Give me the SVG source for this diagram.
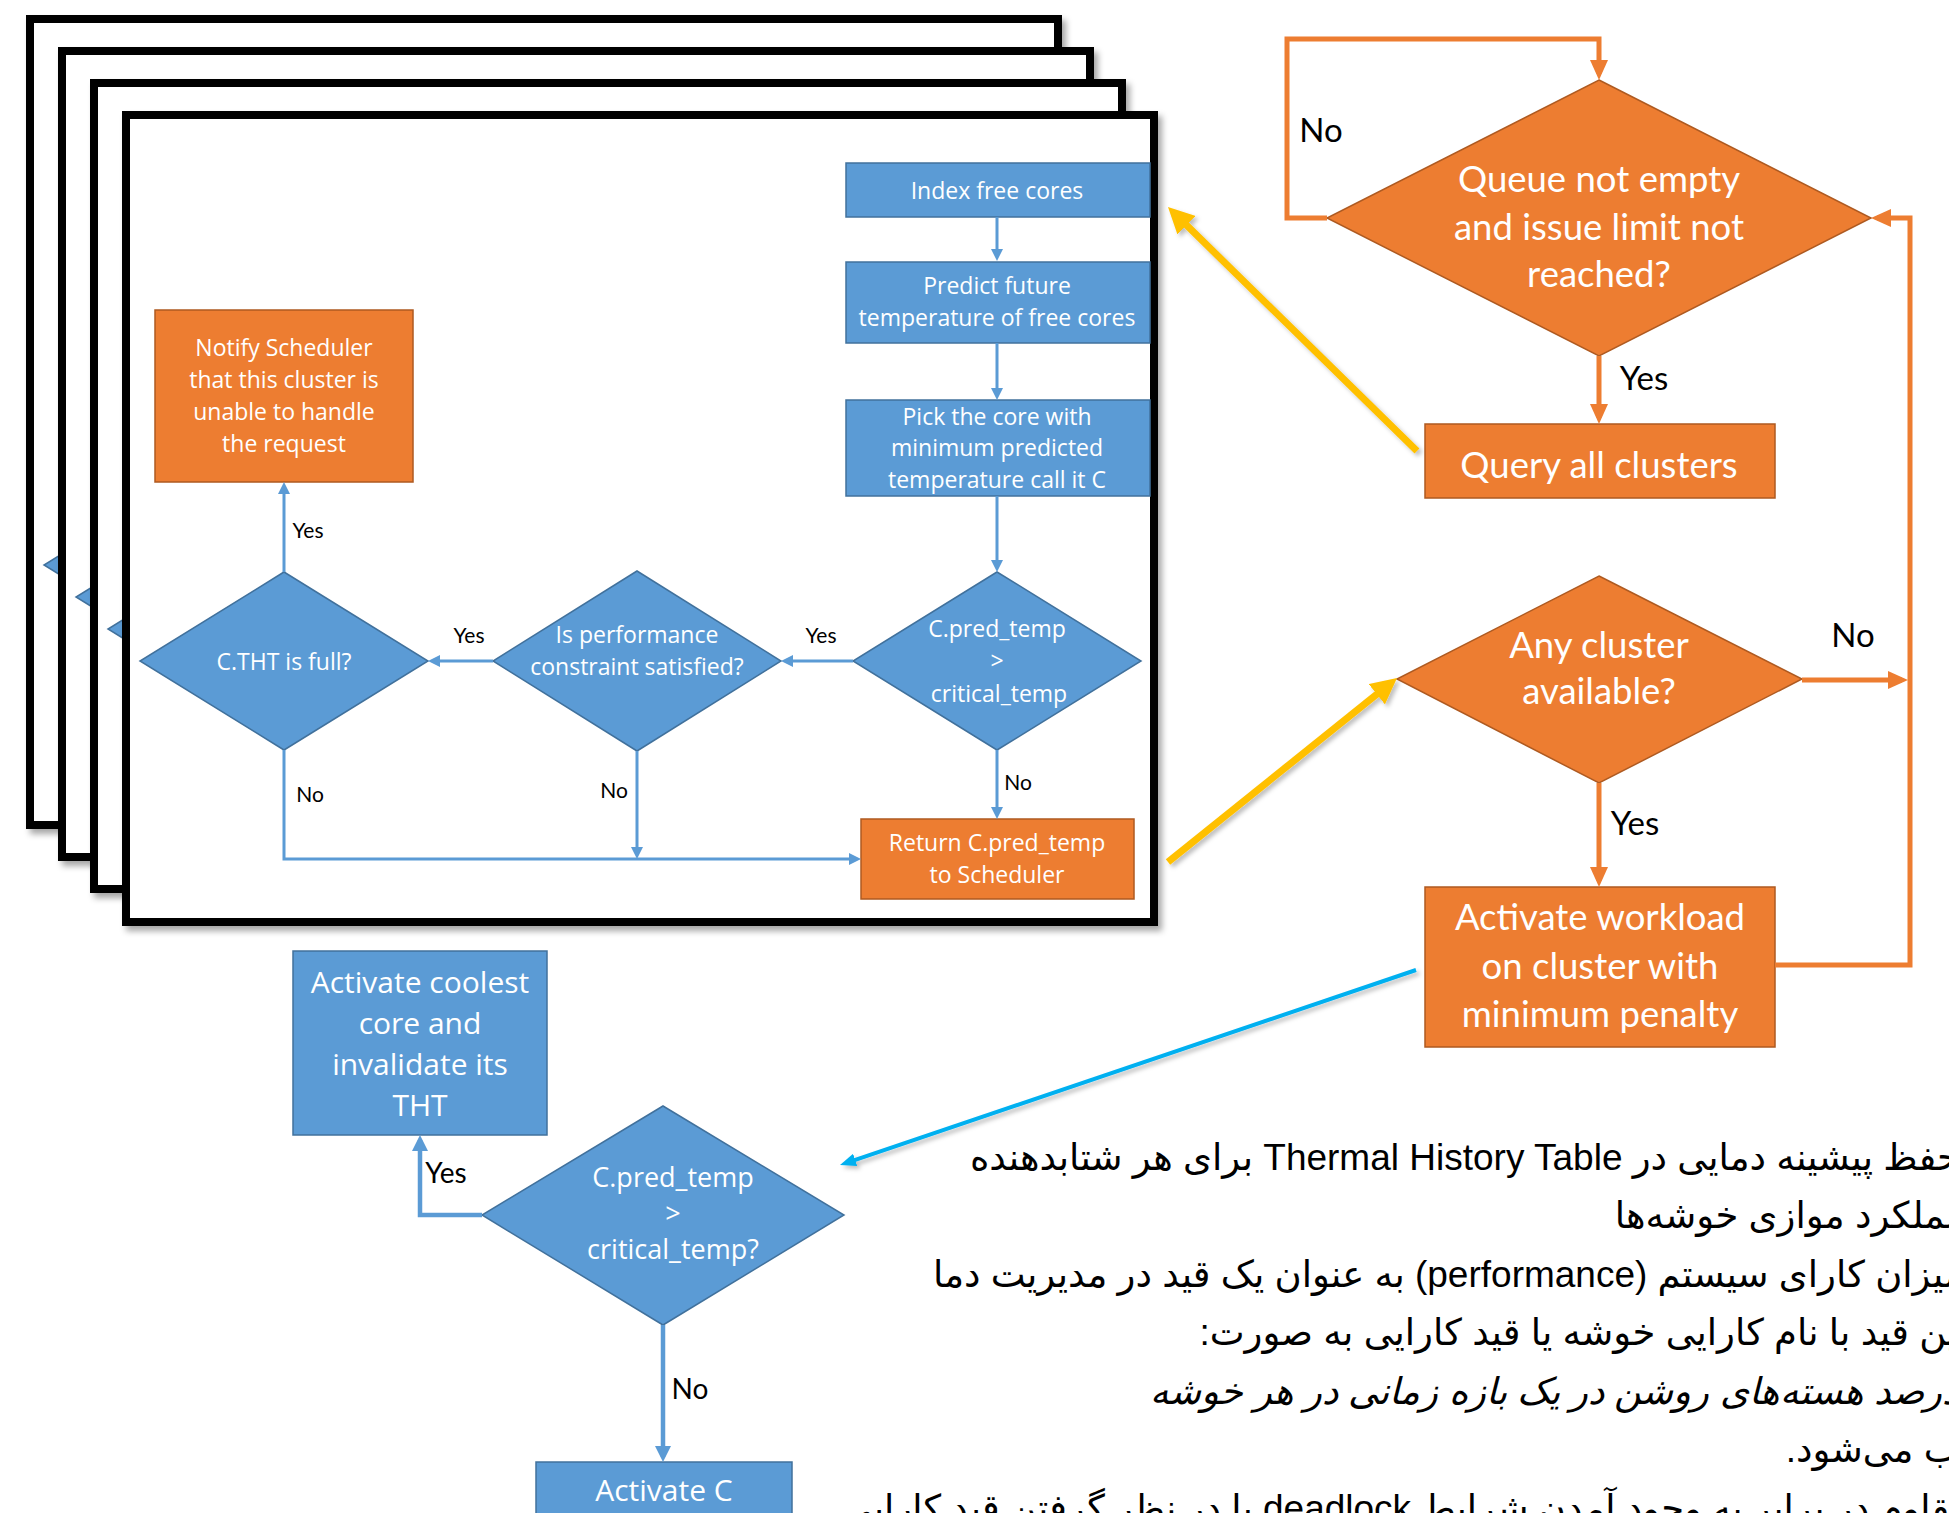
<svg xmlns="http://www.w3.org/2000/svg" width="1949" height="1513" viewBox="0 0 1949 1513">
<style>
.frame{fill:#fff;stroke:#000;stroke-width:8;filter:url(#shd)}
.fb{fill:#5B9BD5;stroke:#41719C;stroke-width:1.5}
.fo{fill:#ED7D31;stroke:#AE5A21;stroke-width:1.5}
.tw{fill:#fff;font-family:'Open Sans','Noto Sans',sans-serif;text-anchor:middle}
.t22{font-size:23px}
.t27{font-size:27px}
.t30{font-size:30px}
.tc{fill:#fff;font-family:Lato,'Liberation Sans',sans-serif;font-size:36.5px;text-anchor:middle}
.lbl{fill:#000;font-family:Lato,'Liberation Sans',sans-serif;text-anchor:middle}
.cb{fill:none;stroke:#5B9BD5;stroke-width:3}
.cb2{fill:none;stroke:#5B9BD5;stroke-width:4.5}
.co{fill:none;stroke:#ED7D31;stroke-width:5}
.cy{fill:none;stroke:#FFC000;stroke-width:7;filter:url(#ashd)}
.cc{fill:none;stroke:#00B0F0;stroke-width:4;filter:url(#ashd)}
.fa{font-family:'Liberation Sans','DejaVu Sans',sans-serif;font-size:37px;fill:#000;direction:rtl;text-anchor:start}
</style>
<defs>
<filter id="shd" x="-5%" y="-5%" width="115%" height="115%"><feDropShadow dx="4" dy="5" stdDeviation="3" flood-color="#000" flood-opacity="0.35"/></filter>
<filter id="ashd" x="-10%" y="-10%" width="130%" height="130%"><feDropShadow dx="3" dy="3" stdDeviation="2" flood-color="#000" flood-opacity="0.25"/></filter>
<marker id="mb" viewBox="0 0 12 12" refX="8" refY="6" markerWidth="12" markerHeight="12" markerUnits="userSpaceOnUse" orient="auto"><path d="M0,0L12,6L0,12z" fill="#5B9BD5"/></marker>
<marker id="mb2" viewBox="0 0 16 16" refX="11" refY="8" markerWidth="16" markerHeight="16" markerUnits="userSpaceOnUse" orient="auto"><path d="M0,0L16,8L0,16z" fill="#5B9BD5"/></marker>
<marker id="mo" viewBox="0 0 20 18" refX="14" refY="9" markerWidth="20" markerHeight="18" markerUnits="userSpaceOnUse" orient="auto"><path d="M0,0L20,9L0,18z" fill="#ED7D31"/></marker>
<marker id="my" viewBox="0 0 26 26" refX="18" refY="13" markerWidth="26" markerHeight="26" markerUnits="userSpaceOnUse" orient="auto"><path d="M0,0L26,13L0,26z" fill="#FFC000"/></marker>
<marker id="mc" viewBox="0 0 16 13" refX="10" refY="6.5" markerWidth="16" markerHeight="13" markerUnits="userSpaceOnUse" orient="auto"><path d="M0,0L16,6.5L0,13z" fill="#00B0F0"/></marker>
</defs>

<!-- stacked cluster frames -->
<g id="frame1"><rect class="frame" x="30" y="19" width="1028" height="806"/><path class="fb" d="M188,476L332,565L188,654L44,565z"/></g>
<g id="frame2"><rect class="frame" x="62" y="51" width="1028" height="806"/><path class="fb" d="M220,508L364,597L220,686L76,597z"/></g>
<g id="frame3"><rect class="frame" x="94" y="83" width="1028" height="806"/><path class="fb" d="M252,540L396,629L252,718L108,629z"/></g>
<g id="frame4"><rect class="frame" x="126" y="115" width="1028" height="807"/></g>

<!-- inner flowchart nodes -->
<g id="index-free-cores"><rect class="fb" x="846" y="163" width="304" height="54"/><text class="tw t22" x="997" y="199">Index free cores</text></g>
<g id="predict"><rect class="fb" x="846" y="262" width="304" height="81"/><text class="tw t22" x="997" y="294">Predict future</text><text class="tw t22" x="997" y="326">temperature of free cores</text></g>
<g id="pick"><rect class="fb" x="846" y="400" width="304" height="96"/><text class="tw t22" x="997" y="425">Pick the core with</text><text class="tw t22" x="997" y="456">minimum predicted</text><text class="tw t22" x="997" y="488">temperature call it C</text></g>
<g id="pred-check"><path class="fb" d="M997,572L1141,661L997,750L853,661z"/><text class="tw t22" x="997" y="637">C.pred_temp</text><text class="tw t22" x="997" y="669">&gt;</text><text class="tw t22" x="999" y="702">critical_temp</text></g>
<g id="perf-check"><path class="fb" d="M637,571L781,661L637,751L493,661z"/><text class="tw t22" x="637" y="643">Is performance</text><text class="tw t22" x="637" y="675">constraint satisfied?</text></g>
<g id="tht-check"><path class="fb" d="M284,572L428,661L284,750L140,661z"/><text class="tw t22" x="284" y="670">C.THT is full?</text></g>
<g id="notify"><rect class="fo" x="155" y="310" width="258" height="172"/><text class="tw t22" x="284" y="356">Notify Scheduler</text><text class="tw t22" x="284" y="388">that this cluster is</text><text class="tw t22" x="284" y="420">unable to handle</text><text class="tw t22" x="284" y="452">the request</text></g>
<g id="return"><rect class="fo" x="861" y="819" width="273" height="80"/><text class="tw t22" x="997" y="851">Return C.pred_temp</text><text class="tw t22" x="997" y="883">to Scheduler</text></g>

<!-- outer flowchart nodes -->
<g id="queue-check"><path class="fo" d="M1599,80L1871,218L1599,356L1327,218z"/><text class="tc" x="1599" y="192">Queue not empty</text><text class="tc" x="1599" y="240">and issue limit not</text><text class="tc" x="1599" y="287">reached?</text></g>
<g id="query"><rect class="fo" x="1425" y="424" width="350" height="74"/><text class="tc" x="1599" y="478">Query all clusters</text></g>
<g id="any-cluster"><path class="fo" d="M1599,576L1802,679L1599,783L1397,679z"/><text class="tc" x="1599" y="658">Any cluster</text><text class="tc" x="1599" y="704">available?</text></g>
<g id="activate-workload"><rect class="fo" x="1425" y="887" width="350" height="160"/><text class="tc" x="1600" y="930">Activate workload</text><text class="tc" x="1600" y="979">on cluster with</text><text class="tc" x="1600" y="1027">minimum penalty</text></g>

<!-- core activation flowchart nodes -->
<g id="activate-coolest"><rect class="fb" x="293" y="951" width="254" height="184"/><text class="tw t30" x="420" y="993">Activate coolest</text><text class="tw t30" x="420" y="1034">core and</text><text class="tw t30" x="420" y="1075">invalidate its</text><text class="tw t30" x="420" y="1116">THT</text></g>
<g id="core-check"><path class="fb" d="M663,1106L844,1215L663,1325L482,1215z"/><text class="tw t27" x="673" y="1187">C.pred_temp</text><text class="tw t27" x="673" y="1223">&gt;</text><text class="tw t27" x="673" y="1259">critical_temp?</text></g>
<g id="activate-c"><rect class="fb" x="536" y="1462" width="256" height="80"/><text class="tw t30" x="664" y="1501">Activate C</text></g>

<!-- connectors -->
<g id="connectors">
<path class="cb" d="M997,217V257" marker-end="url(#mb)"/>
<path class="cb" d="M997,343V396" marker-end="url(#mb)"/>
<path class="cb" d="M997,496V568" marker-end="url(#mb)"/>
<path class="cb" d="M853,661H785" marker-end="url(#mb)"/>
<path class="cb" d="M493,661H432" marker-end="url(#mb)"/>
<path class="cb" d="M284,572V486" marker-end="url(#mb)"/>
<path class="cb" d="M284,750V859H857" marker-end="url(#mb)"/>
<path class="cb" d="M637,751V855" marker-end="url(#mb)"/>
<path class="cb" d="M997,750V815" marker-end="url(#mb)"/>
<path class="co" d="M1327,218H1287V39H1599V74" marker-end="url(#mo)"/>
<path class="co" d="M1599,356V418" marker-end="url(#mo)"/>
<path class="co" d="M1775,965H1910V218H1877" marker-end="url(#mo)"/>
<path class="co" d="M1802,680H1902" marker-end="url(#mo)"/>
<path class="co" d="M1599,783V881" marker-end="url(#mo)"/>
<path class="cb2" d="M482,1215H420V1140" marker-end="url(#mb2)"/>
<path class="cb2" d="M663,1325V1457" marker-end="url(#mb2)"/>
<path class="cy" d="M1417,451L1173.7,212.6" marker-end="url(#my)"/>
<path class="cy" d="M1168,862L1390.8,683" marker-end="url(#my)"/>
<path class="cc" d="M1416,970L845.7,1163.1" marker-end="url(#mc)"/>
<g class="lbl" font-size="21px">
<text x="308" y="538">Yes</text><text x="469" y="643">Yes</text><text x="821" y="643">Yes</text>
<text x="310" y="802">No</text><text x="614" y="798">No</text><text x="1018" y="790">No</text>
</g>
<g class="lbl" font-size="33px">
<text x="1321" y="142">No</text><text x="1644" y="390">Yes</text><text x="1853" y="647">No</text><text x="1635" y="835">Yes</text>
</g>
<g class="lbl" font-size="28px">
<text x="446" y="1183">Yes</text><text x="690" y="1399">No</text>
</g>
</g>

<!-- Persian text block -->
<g id="notes">
<text class="fa" x="1960" y="1170">حفظ پیشینه دمایی در Thermal History Table برای هر شتابدهنده</text>
<text class="fa" x="1968" y="1228">عملکرد موازی خوشه‌ها</text>
<text class="fa" x="1964" y="1287">میزان کارای سیستم (performance) به عنوان یک قید در مدیریت دما</text>
<text class="fa" x="1968" y="1345">این قید با نام کارایی خوشه یا قید کارایی به صورت:</text>
<text class="fa" x="1958" y="1404" font-style="italic">درصد هسته‌های روشن در یک بازه زمانی در هر خوشه</text>
<text class="fa" x="1960" y="1462">&#x200D;ب می‌شود.</text>
<text class="fa" x="1970" y="1521">مقاوم در برابر به وجود آمدن شرایط deadlock یا در نظر گرفتن قید کارایی</text>
</g>
</svg>
